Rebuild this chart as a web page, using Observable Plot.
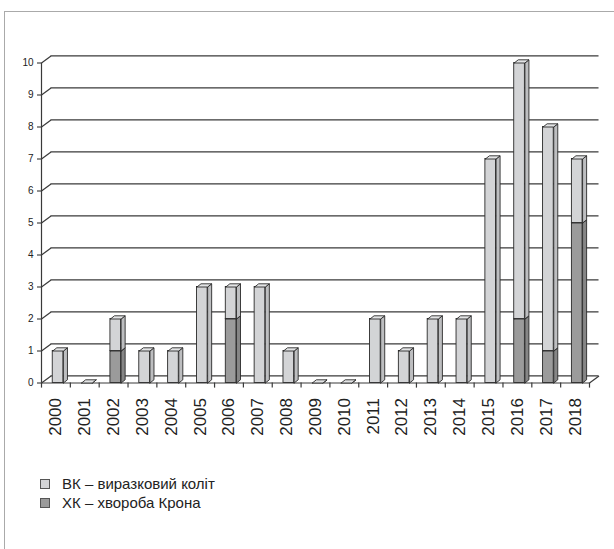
<!DOCTYPE html>
<html><head><meta charset="utf-8">
<script src="https://cdn.jsdelivr.net/npm/d3@7"></script>
<script src="https://cdn.jsdelivr.net/npm/@observablehq/plot@0.6"></script>
<style>
body{margin:0;background:#fff;}
#wrap{position:relative;width:614px;height:549px;overflow:hidden;font-family:"Liberation Sans",Arial,sans-serif;background:#fff;}
#frame{position:absolute;left:4px;top:11px;width:620px;height:560px;border-top:1.5px solid #aaa;border-left:1.5px solid #aaa;}
#chart{position:absolute;left:0;top:0;}
#legend{position:absolute;left:40px;top:474px;font-size:15px;color:#222;line-height:19px;}
.item{display:flex;align-items:center;}
.sw{width:8px;height:8px;border:1px solid #555;margin-right:12px;}
#chart [aria-label^="x-axis"] text{font-size:17px;}
#chart [aria-label^="y-axis"] text{font-size:10px;}
</style></head><body>
<div id="wrap"><div id="frame"></div><div id="chart"></div><div id="legend"></div></div>
<script>
const years = ["2000","2001","2002","2003","2004","2005","2006","2007","2008","2009","2010","2011","2012","2013","2014","2015","2016","2017","2018"];
const ucCases = [1,0,1,1,1,3,1,3,1,0,0,2,1,2,2,7,8,7,2];
const cdCases = [0,0,1,0,0,0,2,0,0,0,0,0,0,0,0,0,2,1,5];
const seriesNames = ["ВК – виразковий коліт", "ХК – хвороба Крона"];
const yTicks = [0,1,2,3,4,5,6,7,8,9,10];

// 3D geometry (data units)
const BAR_X0 = 0.39, BAR_X1 = 0.76, BAR_DX = 0.14, BAR_DY = 0.1;
const WALL_DX = 0.33, WALL_DY = 0.22, TICK_LEN = 0.16;
const N = years.length;

const colors = {
  uc: {front: "#d3d4d6", side: "#bdbec0", top: "#e3e4e5"},
  cd: {front: "#9b9b9b", side: "#868686", top: "#b0b0b0"}
};

const segs = {cd: [], uc: []};
years.forEach((yr, i) => {
  if (cdCases[i] > 0) segs.cd.push({i, y0: 0, y1: cdCases[i]});
  segs.uc.push({i, y0: cdCases[i], y1: cdCases[i] + ucCases[i]});
});

function sidePolys(list) {
  const rows = [];
  list.forEach((s, k) => {
    const xa = s.i + BAR_X1, xb = xa + BAR_DX;
    [[xa, s.y0], [xb, s.y0 + BAR_DY], [xb, s.y1 + BAR_DY], [xa, s.y1], [xa, s.y0]]
      .forEach(([x, y]) => rows.push({id: k, x, y}));
  });
  return rows;
}
function topPolys(list) {
  const rows = [];
  list.forEach((s, k) => {
    const xa = s.i + BAR_X0, xb = s.i + BAR_X1;
    [[xa, s.y1], [xb, s.y1], [xb + BAR_DX, s.y1 + BAR_DY], [xa + BAR_DX, s.y1 + BAR_DY], [xa, s.y1]]
      .forEach(([x, y]) => rows.push({id: k, x, y}));
  });
  return rows;
}

const outline = {stroke: "#2a2a2a", strokeWidth: 0.9};
const grid = {stroke: "#3a3a3a", strokeWidth: 1.2};
function barMarks(key) {
  return [
    Plot.rect(segs[key], {x1: d => d.i + BAR_X0, x2: d => d.i + BAR_X1, y1: "y0", y2: "y1", fill: colors[key].front, ...outline}),
    Plot.line(sidePolys(segs[key]), {x: "x", y: "y", z: "id", fill: colors[key].side, ...outline}),
    Plot.line(topPolys(segs[key]), {x: "x", y: "y", z: "id", fill: colors[key].top, ...outline})
  ];
}

const chart = Plot.plot({
  width: 614, height: 450,
  marginLeft: 41, marginRight: 25, marginTop: 62.5, marginBottom: 67.5,
  style: {fontFamily: '"Liberation Sans", Arial, sans-serif', fontSize: "10px", color: "#222", background: "transparent", overflow: "visible"},
  x: {domain: [0, N], ticks: years.map((_, i) => i + 0.5), tickFormat: d => years[Math.floor(d)], tickRotate: -90, tickSize: 0, tickPadding: 15, label: null},
  y: {domain: [0, 10], ticks: yTicks, tickSize: 4, tickPadding: 4, label: null},
  marks: [
    Plot.ruleY(yTicks, {y: d => d + WALL_DY, x1: WALL_DX, x2: N + WALL_DX, ...grid}),
    Plot.link(yTicks, {x1: 0, y1: d => d, x2: WALL_DX, y2: d => d + WALL_DY, ...grid}),
    Plot.link([0], {x1: N, y1: 0, x2: N + WALL_DX, y2: WALL_DY, ...grid}),
    Plot.ruleY([0], {x1: 0, x2: N, ...grid}),
    Plot.ruleX([0], {y1: 0, y2: 10, ...grid}),
    Plot.ruleX(d3.range(N + 1), {y1: 0, y2: -TICK_LEN, ...grid}),
    ...barMarks("cd"),
    ...barMarks("uc")
  ]
});
document.getElementById("chart").appendChild(chart);

const legend = document.getElementById("legend");
[["uc", seriesNames[0]], ["cd", seriesNames[1]]].forEach(([key, name]) => {
  const it = document.createElement("div");
  it.className = "item";
  const sw = document.createElement("span");
  sw.className = "sw";
  sw.style.background = colors[key].front;
  const tx = document.createElement("span");
  tx.textContent = name;
  it.appendChild(sw); it.appendChild(tx);
  legend.appendChild(it);
});
</script>
</body></html>
